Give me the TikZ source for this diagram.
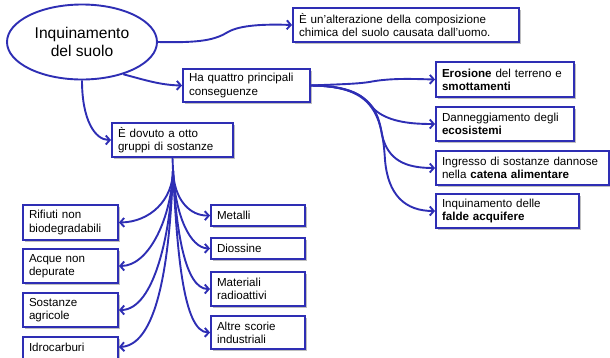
\documentclass[tikz,border=0pt]{standalone}
\usepackage{fontspec}
\setmainfont{Liberation Sans}
\usetikzlibrary{arrows.meta,shapes.geometric,shadows}
\definecolor{bl}{HTML}{2E2EB4}
\begin{document}
\begin{tikzpicture}[x=1pt,y=-1pt,
  box/.style={draw=bl, line width=1.9pt, fill=white, inner xsep=6pt, inner ysep=2pt, align=left,
    font=\fontsize{11.6}{13.2}\selectfont, anchor=center,
    drop shadow={shadow xshift=1.5pt, shadow yshift=-1.5pt, opacity=0.25, fill=black}},
  conn/.style={draw=bl, line width=1.9pt, -{Straight Barb[length=4pt,width=9pt]}},
  plain/.style={draw=bl, line width=1.9pt}]
\useasboundingbox (0,0) rectangle (610,357);
% main ellipse
\node[ellipse, draw=bl, line width=1.9pt, fill=white, minimum width=150pt, minimum height=75pt, inner sep=0pt,
  align=center, font=\fontsize{15.6}{17.5}\selectfont] (main) at (82,42) {Inquinamento\\del suolo};
% first level boxes
\node[box, text width=214pt, minimum height=34pt] (alt) at (406,25) {È un'alterazione della composizione\\chimica del suolo causata dall'uomo.};
\node[box, text width=115pt, minimum height=33pt] (cons) at (246.5,85.5) {Ha quattro principali\\conseguenze};
\node[box, text width=109pt, minimum height=34pt] (dov) at (172.5,140) {È dovuto a otto\\gruppi di sostanze};
% consequences
\node[box, text width=126pt, minimum height=35pt] (eros) at (505,79.5) {\textbf{Erosione} del terreno e\\\textbf{smottamenti}};
\node[box, text width=126pt, minimum height=34pt] (dann) at (505,124) {Danneggiamento degli\\\textbf{ecosistemi}};
\node[box, text width=161pt, minimum height=34pt] (ingr) at (522.5,168) {Ingresso di sostanze dannose\\nella \textbf{catena alimentare}};
\node[box, text width=131pt, minimum height=34pt] (fald) at (507.5,211) {Inquinamento delle\\\textbf{falde acquifere}};
% substances left
\node[box, text width=83pt, minimum height=35pt] (rif) at (70.5,222.5) {Rifiuti non\\biodegradabili};
\node[box, text width=83pt, minimum height=34pt] (acq) at (70.5,266) {Acque non\\depurate};
\node[box, text width=83pt, minimum height=34pt] (sos) at (70.5,310) {Sostanze\\agricole};
\node[box, text width=83pt, minimum height=34pt, text depth=14pt] (idr) at (70.5,354) {Idrocarburi};
% substances right
\node[box, text width=82pt, minimum height=21pt] (met) at (258,215.5) {Metalli};
\node[box, text width=82pt, minimum height=21pt] (dio) at (258,248.5) {Diossine};
\node[box, text width=82pt, minimum height=34pt] (mat) at (258,289) {Materiali\\radioattivi};
\node[box, text width=82pt, minimum height=33pt] (alr) at (258,332.5) {Altre scorie\\industriali};
% connectors from main
\draw[conn] (main.east) .. controls (200,43) and (215,40) .. (228,32) .. controls (240,25) and (265,24) .. (alt.west);
\draw[conn] (main.-38) .. controls (145,80) and (160,85) .. (cons.west);
\draw[conn] (main.south) .. controls (82,120) and (95,140) .. (dov.west);
% fan from consequences
\coordinate (cs) at (cons.east);
\draw[conn] (cs) .. controls (345,84) and (360,84) .. (375,81) .. controls (395,78) and (415,79) .. (eros.west);
\draw[conn] (cs) .. controls (360,86) and (365,100) .. (375,110) .. controls (390,123) and (415,124) .. (dann.west);
\draw[conn] (cs) .. controls (370,86) and (378,110) .. (382,135) .. controls (388,160) and (405,168) .. (ingr.west);
\draw[conn] (cs) .. controls (370,86) and (382,110) .. (385,160) .. controls (388,195) and (405,211) .. (fald.west);
% fan from dovuto
\coordinate (hub) at (173,170);
\draw[plain] (dov.south) -- (hub);
\draw[conn] (hub) .. controls (173,200) and (150,222) .. (rif.east);
\draw[conn] (hub) .. controls (172,215) and (150,266) .. (acq.east);
\draw[conn] (hub) .. controls (171,230) and (155,310) .. (sos.east);
\draw[conn] (hub) .. controls (170,250) and (160,345) .. (idr.east |- 0,347);
\draw[conn] (hub) .. controls (174,200) and (190,216) .. (met.west);
\draw[conn] (hub) .. controls (175,215) and (190,248) .. (dio.west);
\draw[conn] (hub) .. controls (176,230) and (185,289) .. (mat.west);
\draw[conn] (hub) .. controls (177,250) and (183,332) .. (alr.west);
\end{tikzpicture}
\end{document}
